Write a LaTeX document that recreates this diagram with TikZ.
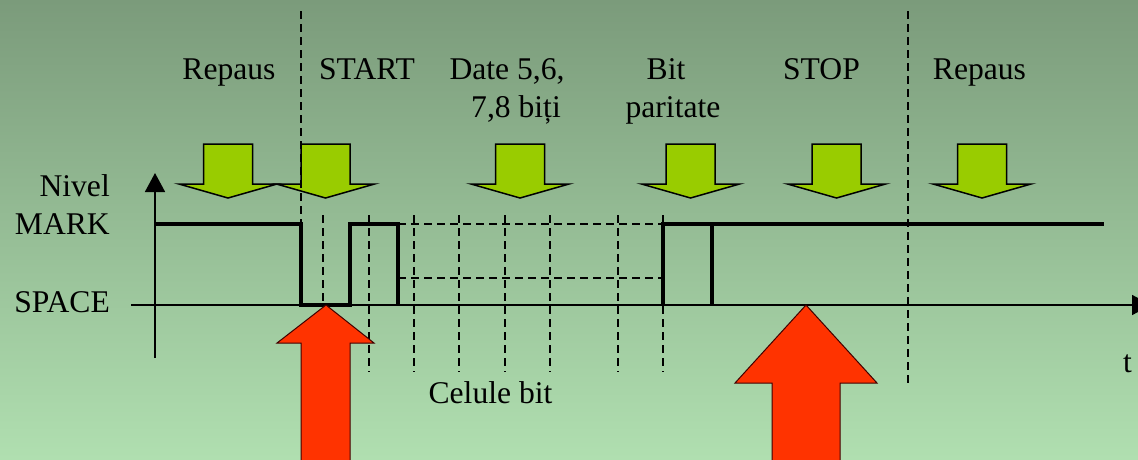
\documentclass[tikz,border=0pt]{standalone}
\usepackage{fontspec}
\setmainfont{Liberation Serif}
\usetikzlibrary{arrows.meta}
\definecolor{bgtop}{RGB}{123,155,123}
\definecolor{bgbot}{RGB}{176,223,176}
\definecolor{limeg}{RGB}{153,204,0}
\definecolor{redarr}{RGB}{255,51,0}
\begin{document}
\begin{tikzpicture}[x=1pt,y=-1pt,
  lbl/.style={font=\fontsize{31.6}{38}\selectfont, inner sep=0pt, anchor=base, align=center},
  lblr/.style={lbl, anchor=base east, align=right},
  sep/.style={draw=black, line width=1.5pt, dash pattern=on 8pt off 5pt},
  sig/.style={line width=3.5pt, line join=miter},
  axis/.style={line width=1.7pt, -{Triangle[length=19pt,width=20pt]}},
  downarrow/.pic={\filldraw[fill=limeg, draw=black, line width=1.5pt]
    (-24.5,0) -- (24.5,0) -- (24.5,40) -- (49,40) -- (0,54) -- (-49,40) -- (-24.5,40) -- cycle;},
  uparrow/.style={fill=redarr, draw=black!75!red, line width=1pt}
]
% background
\useasboundingbox (0,0) rectangle (1138,459);
\shade[top color=bgtop, bottom color=bgbot] (0,0) rectangle (1138,459);

% phase arrows
\foreach \c in {228,325.5,520,690.5,836.5,982}
  \pic at (\c,144) {downarrow};

% phase separators and bit cells
\draw[sep] (301,11) -- (301,305);
\draw[sep] (908,11) -- (908,383);
\draw[sep] (323,215) -- (323,305);
\foreach \x in {369,414,459,505,550,618,663}
  \draw[sep] (\x,215) -- (\x,372);
\draw[sep] (398,224) -- (663,224);
\draw[sep] (398,278) -- (663,278);

% signal
\draw[sig] (155,224) -- (301,224) -- (301,305) -- (350,305) -- (350,224) -- (398,224) -- (398,305);
\draw[sig] (663,305) -- (663,224) -- (1104,224);
\draw[sig] (712,224) -- (712,305);

% axes
\draw[axis] (155,358) -- (155,173);
\draw[axis] (131,305) -- (1151,305);

% sampling arrows
\filldraw[uparrow] (326,305) -- (374,343) -- (350,343) -- (350,470) -- (301,470) -- (301,343) -- (277,343) -- cycle;
\filldraw[uparrow] (806,305) -- (877,383) -- (840,383) -- (840,470) -- (772,470) -- (772,383) -- (735,383) -- cycle;

% labels
\node[lbl] (repaus1) at (229,79) {Repaus};
\node[lbl] (start) at (367,79) {START};
\node[lbl] (date) at (516,117) {Date 5,6,\hspace*{18pt}\\7,8 biți};
\node[lbl] (paritate) at (673,117) {Bit\hspace*{14pt}\\paritate};
\node[lbl] (stop) at (821.5,79) {STOP};
\node[lbl] (repaus2) at (979.5,79) {Repaus};
\node[lblr] (nivel) at (110,196) {Nivel};
\node[lblr] (mark) at (110,234) {MARK};
\node[lblr] (space) at (110,312) {SPACE};
\node[lbl] (celule) at (490.5,403) {Celule bit};
\node[lbl] (t) at (1127.5,372) {t};
\end{tikzpicture}
\end{document}
